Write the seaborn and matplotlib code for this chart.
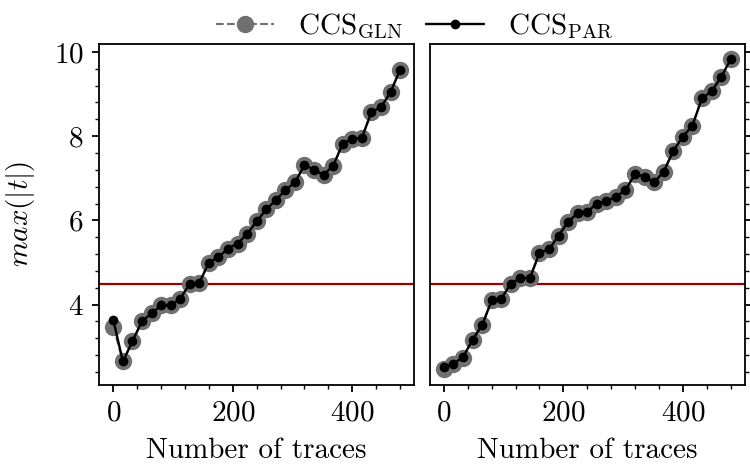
import numpy as np
import pandas as pd
import seaborn as sns
import matplotlib
matplotlib.use("Agg")
import matplotlib.pyplot as plt
from matplotlib.ticker import MultipleLocator

# ---- data ----
traces = list(range(0, 481, 16))

left_par = [3.63, 2.65, 3.13, 3.61, 3.79, 3.98, 3.98, 4.14, 4.50, 4.52,
            5.00, 5.13, 5.33, 5.45, 5.68, 5.98, 6.26, 6.48, 6.72, 6.90,
            7.32, 7.20, 7.08, 7.30, 7.82, 7.94, 7.96, 8.57, 8.69, 9.04, 9.58]
left_gln = [3.48, 2.65, 3.13, 3.61, 3.79, 3.98, 3.98, 4.14, 4.50, 4.52,
            5.00, 5.13, 5.33, 5.45, 5.68, 5.98, 6.26, 6.48, 6.72, 6.90,
            7.32, 7.20, 7.08, 7.30, 7.82, 7.94, 7.96, 8.57, 8.69, 9.04, 9.58]

right_par = [2.52, 2.60, 2.75, 3.17, 3.51, 4.10, 4.14, 4.50, 4.63, 4.63,
             5.23, 5.31, 5.64, 5.97, 6.17, 6.20, 6.40, 6.46, 6.56, 6.72,
             7.10, 7.04, 6.90, 7.16, 7.65, 7.99, 8.25, 8.90, 9.06, 9.40, 9.82]
right_gln = [2.46, 2.58, 2.74, 3.17, 3.51, 4.10, 4.14, 4.50, 4.63, 4.63,
             5.23, 5.31, 5.64, 5.97, 6.17, 6.20, 6.40, 6.46, 6.56, 6.72,
             7.10, 7.04, 6.90, 7.16, 7.65, 7.99, 8.25, 8.90, 9.06, 9.40, 9.82]

threshold = 4.5
label_gln = r"$\mathrm{CCS}_{\mathrm{GLN}}$"
label_par = r"$\mathrm{CCS}_{\mathrm{PAR}}$"
xlabel = "Number of traces"
ylabel = r"$max(|t|)$"

# ---- style ----
sns.set_style("ticks")
plt.rcParams["font.family"] = ["cmr10", "DejaVu Serif"]
plt.rcParams["mathtext.fontset"] = "cm"
plt.rcParams["axes.formatter.use_mathtext"] = True
plt.rcParams["axes.unicode_minus"] = False
plt.rcParams["axes.edgecolor"] = "black"
plt.rcParams["xtick.color"] = "black"
plt.rcParams["ytick.color"] = "black"
plt.rcParams["text.color"] = "black"
plt.rcParams["axes.labelcolor"] = "black"
FS = 21

fig, axes = plt.subplots(1, 2, figsize=(7.5, 4.74), dpi=100, sharey=True)
fig.subplots_adjust(left=0.132, right=0.9933, top=0.9072, bottom=0.1878, wspace=0.048)

panels = [(left_gln, left_par), (right_gln, right_par)]
for i, (ax, (gln, par)) in enumerate(zip(axes, panels)):
    df = pd.DataFrame({"x": traces, "gln": gln, "par": par})
    sns.lineplot(data=df, x="x", y="gln", ax=ax, color="#707070", linestyle="--",
                 marker="o", markersize=12.5, markeredgewidth=0, linewidth=1.5,
                 label=label_gln, zorder=2)
    sns.lineplot(data=df, x="x", y="par", ax=ax, color="black", linestyle="-",
                 marker="o", markersize=7, markeredgewidth=0, linewidth=1.7,
                 label=label_par, zorder=3)
    ax.axhline(threshold, color="#990000", linewidth=1.6, zorder=1)
    ax.set_xlabel(xlabel, fontsize=FS, labelpad=8)
    ax.xaxis.set_major_locator(MultipleLocator(200))
    ax.xaxis.set_minor_locator(MultipleLocator(40))
    ax.yaxis.set_major_locator(MultipleLocator(2))
    ax.yaxis.set_minor_locator(MultipleLocator(0.4))
    ax.tick_params(axis="both", which="major", labelsize=FS, length=5, width=1.3,
                   direction="out", pad=6)
    ax.tick_params(axis="both", which="minor", length=3, width=1.0, direction="out")
    for sp in ax.spines.values():
        sp.set_linewidth(1.3)
        sp.set_visible(True)
        sp.set_color("black")
    ax.get_legend().remove()

axes[0].set_ylabel(ylabel, fontsize=FS, labelpad=12)
axes[1].set_ylabel("")
axes[1].yaxis.tick_right()
axes[1].tick_params(axis="y", which="both", labelright=False, left=False, right=True)
axes[0].tick_params(axis="y", which="both", right=False)

handles, labels = axes[0].get_legend_handles_labels()
fig.legend(handles[:2], labels[:2], loc="upper center", bbox_to_anchor=(0.553, 1.03),
           ncol=2, frameon=False, fontsize=FS, handlelength=2.0, columnspacing=0.8,
           handletextpad=0.8)

fig.savefig("out.png", dpi=100)
